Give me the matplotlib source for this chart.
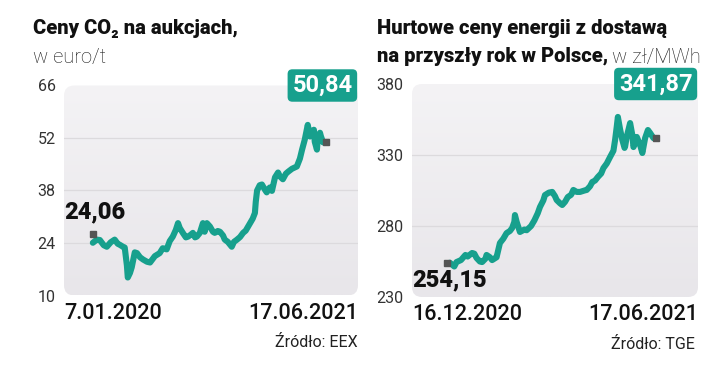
import numpy as np
import matplotlib.pyplot as plt
from matplotlib.patches import FancyBboxPatch
from matplotlib.transforms import offset_copy

plt.rcParams['font.family'] = ['Roboto', 'DejaVu Sans']

# CO2 auction prices, EUR/t (days from 7.01.2020)
co2_days = [0, 9, 16, 25, 32, 41, 50, 57, 62, 69, 73, 78, 80, 85, 89, 96, 101, 108,
            115, 124, 131, 142, 153, 160, 169, 176, 183, 190, 195, 199, 206, 213, 218,
            224, 229, 234, 238, 245, 252, 256, 261, 268, 275, 279, 286, 291, 298, 302,
            309, 318, 323, 330, 337, 344, 350, 360, 366, 371, 373, 376, 382, 387, 394,
            398, 405, 410, 417, 424, 428, 435, 442, 447, 456, 467, 474, 479, 485, 492,
            497, 501, 506, 508, 513, 515, 520, 522, 527]
co2_vals = [24.06, 24.9, 24.8, 23.4, 23.0, 24.2, 24.9, 23.8, 23.5, 23.0, 22.8, 18.0, 14.8,
            16.0, 17.5, 21.5, 21.3, 20.2, 19.6, 19.0, 18.8, 20.5, 21.3, 22.6, 22.3, 24.5,
            25.7, 27.5, 29.3, 28.0, 26.7, 25.5, 25.7, 26.2, 26.7, 25.5, 25.7, 26.7, 29.3,
            27.0, 29.3, 28.4, 27.0, 26.7, 27.2, 27.0, 26.0, 24.9, 24.3, 23.0, 24.3, 24.9,
            25.6, 26.7, 27.3, 29.3, 30.5, 32.0, 35.0, 38.0, 39.4, 39.6, 38.2, 37.5, 38.8,
            37.9, 41.5, 42.8, 41.8, 41.0, 42.5, 43.0, 43.8, 44.4, 46.5, 48.9, 51.5, 55.5,
            52.4, 53.8, 54.2, 51.0, 48.9, 52.0, 53.4, 52.5, 50.84]
co2_ticks = [10, 24, 38, 52, 66]

# Wholesale energy prices, PLN/MWh (days from 16.12.2020)
en_days = [0, 4, 6, 10, 14, 16, 20, 22, 24, 27, 29, 32, 33, 36, 38, 40, 42, 45, 48, 51,
           54, 56, 58, 58.5, 60, 63, 67, 69, 73, 76, 79, 81, 84, 85.5, 89, 92, 94.5, 96,
           99, 101, 103.5, 106, 109, 111, 114, 117, 121, 123, 126, 128, 130.5, 133, 136,
           138, 141, 144, 147, 148.5, 150, 151, 153, 155, 157, 157.5, 159, 162, 164, 165,
           166.5, 168, 171, 173, 175.5, 178, 180, 183]
en_vals = [254.15, 251.5, 254.6, 256, 259.6, 258.5, 261, 260.5, 257.5, 255, 254.6, 257,
           259.6, 258, 256, 257, 258, 268, 271, 275, 276.5, 278.6, 283, 287.7, 283, 275.8,
           277.5, 277, 280, 284, 289, 293.4, 298, 301.8, 303.5, 304, 301, 298.3, 296,
           294.8, 297, 300.4, 302, 305.4, 304, 304, 305, 305.4, 308, 311, 312, 314.5, 317,
           320.8, 324, 328.6, 333, 340.6, 350, 356.8, 348, 340.6, 335, 336, 343, 352.5,
           344, 335.6, 338, 342.7, 337, 331.4, 342, 347.6, 345.5, 341.87]
en_ticks = [230, 280, 330, 380]

TEAL = '#17a08d'

fig = plt.figure(figsize=(7.2, 3.79), dpi=100)


def panel(rect, days, vals, ticks, xlim, start_lbl, end_lbl, first_off, last_off, start_txt):
    ax = fig.add_axes(rect)
    for s in ax.spines.values():
        s.set_visible(False)
    # rounded gray background with a soft gradient
    w = rect[2] * 720
    h = rect[3] * 379
    box = FancyBboxPatch((0, 0), 1, 1, boxstyle='round,pad=0,rounding_size=0.035',
                         mutation_aspect=w / h, transform=ax.transAxes,
                         facecolor='none', edgecolor='none')
    ax.add_patch(box)
    grad = np.linspace(0, 1, 100).reshape(-1, 1)
    im = ax.imshow(grad, extent=(0, 1, 0, 1), transform=ax.transAxes, aspect='auto',
                   cmap=plt.matplotlib.colors.LinearSegmentedColormap.from_list(
                       'g', ['#f4f3f5', '#e8e6ea']), origin='upper', zorder=0)
    im.set_clip_path(box)
    ax.set_xlim(*xlim)
    ax.set_ylim(ticks[0], ticks[-1])
    for t in ticks[1:-1]:
        ax.axhline(t, color='#dcdadd', lw=0.9, zorder=1)
    ax.set_yticks(ticks)
    ax.set_yticklabels([str(t) for t in ticks], fontsize=11.5, color='#333333')
    ax.tick_params(axis='y', length=0, pad=6)
    ax.set_xticks([])
    ax.plot(days, vals, color=TEAL, lw=4.4, solid_joinstyle='round',
            solid_capstyle='round', zorder=3)
    # small square markers at first and last value
    ax.plot(days[0], vals[0], 's', ms=4, color='#555555', zorder=4,
            transform=offset_copy(ax.transData, fig, x=first_off[0], y=first_off[1], units='dots'))
    ax.plot(days[-1], vals[-1], 's', ms=4, color='#555555', zorder=4,
            transform=offset_copy(ax.transData, fig, x=last_off[0], y=last_off[1], units='dots'))
    # value labels
    ax.annotate(end_lbl, xy=(1, 1), xycoords='axes fraction', xytext=(-4, 0),
                textcoords='offset points', ha='right', va='center', fontsize=17,
                fontweight='bold', color='white', zorder=5,
                bbox=dict(boxstyle='round,pad=0.2,rounding_size=0.2', fc=TEAL, ec='none'))
    ax.annotate(start_lbl, xy=(0, start_txt), xycoords='axes fraction', ha='left',
                va='center', fontsize=17, fontweight='heavy', color='#111111', zorder=5)
    return ax


ax1 = panel([64 / 720, 1 - 295.5 / 379, 294 / 720, 210 / 379], co2_days, co2_vals,
            co2_ticks, (-66, 607), '24,06', '50,84', (0, 9), (3, 0), 0.4)
ax2 = panel([412 / 720, 1 - 297 / 379, 286 / 720, 213 / 379], en_days, en_vals,
            en_ticks, (-34, 223), '254,15', '341,87', (-3, 0), (3, 0), 0.08)

# dates under the charts
for ax, d0, d1 in [(ax1, '7.01.2020', '17.06.2021'), (ax2, '16.12.2020', '17.06.2021')]:
    ax.text(0, -0.035, d0, transform=ax.transAxes, ha='left', va='top', fontsize=15.5,
            fontweight='medium', color='#111111')
    ax.text(1, -0.035, d1, transform=ax.transAxes, ha='right', va='top', fontsize=15.5,
            fontweight='medium', color='#111111')

ax1.text(1, -0.19, 'Źródło: EEX', transform=ax1.transAxes, ha='right', va='top',
         fontsize=11.5, color='#222222')
ax2.text(0.99, -0.19, 'Źródło: TGE', transform=ax2.transAxes, ha='right', va='top',
         fontsize=11.5, color='#222222')

# titles
fig.text(33 / 720, 1 - 28 / 379, 'Ceny CO₂ na aukcjach,', fontsize=14.5, fontweight='heavy',
         color='#111111', va='center')
fig.text(33 / 720, 1 - 57 / 379, 'w euro/t', fontsize=14.5, fontweight='light',
         color='#1a1a1a', va='center')
fig.text(377 / 720, 1 - 28 / 379, 'Hurtowe ceny energii z dostawą', fontsize=14.5,
         fontweight='heavy', color='#111111', va='center')
t = fig.text(377 / 720, 1 - 57 / 379, 'na przyszły rok w Polsce,', fontsize=14.5,
             fontweight='heavy', color='#111111', va='center')
fig.canvas.draw()
bb = t.get_window_extent()
fig.text((bb.x1 + 4) / 720, 1 - 57 / 379, 'w zł/MWh', fontsize=14.5, fontweight='light',
         color='#1a1a1a', va='center')

plt.savefig('out.png', dpi=100)
